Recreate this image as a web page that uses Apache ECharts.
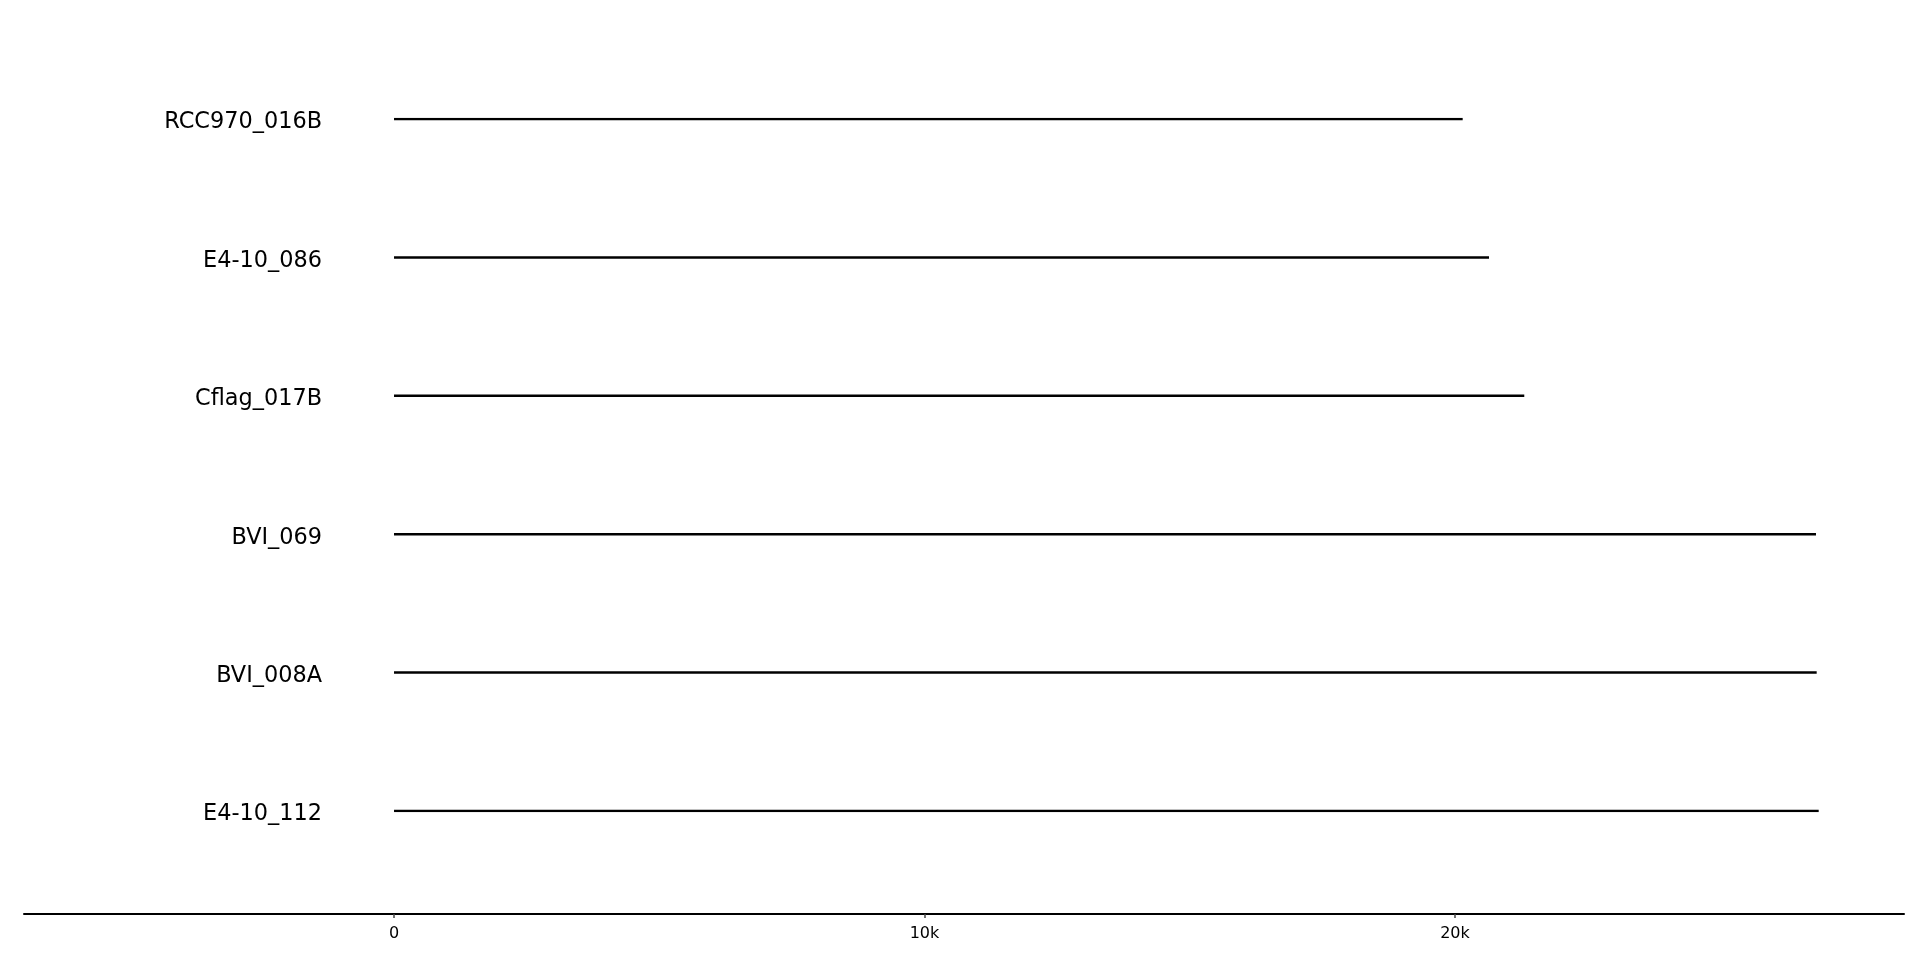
<!DOCTYPE html>
<html>
<head>
<meta charset="utf-8">
<script src="https://cdn.jsdelivr.net/npm/echarts@6/dist/echarts.min.js"></script>
<style>html,body{margin:0;padding:0;background:#fff;}#chart{width:1920px;height:960px;}</style>
</head>
<body>
<div id="chart"></div>
<script>
const genomes = ['RCC970_016B', 'E4-10_086', 'Cflag_017B', 'BVI_069', 'BVI_008A', 'E4-10_112'];
const lengths = [20145, 20641, 21306, 26805, 26818, 26856];
const tickValues = [0, 10000, 20000];
const tickLabels = ['0', '10k', '20k'];

const chart = echarts.init(document.getElementById('chart'));
chart.setOption({
  animation: false,
  backgroundColor: '#ffffff',
  grid: { left: 24, right: 16, top: 119, bottom: 149, containLabel: false },
  xAxis: {
    type: 'value',
    min: -6975,
    max: 28464,
    position: 'bottom',
    offset: 103,
    axisLine: { show: true, onZero: false, lineStyle: { color: '#000', width: 2 } },
    axisTick: { show: true, customValues: tickValues, length: 4, lineStyle: { color: '#444', width: 1.5 } },
    axisLabel: {
      show: true,
      customValues: tickValues,
      margin: 12,
      color: '#000',
      fontFamily: 'DejaVu Sans',
      fontSize: 16,
      formatter: v => tickLabels[tickValues.indexOf(v)]
    },
    splitLine: { show: false }
  },
  yAxis: {
    type: 'category',
    data: genomes,
    inverse: true,
    boundaryGap: false,
    offset: -306,
    axisLine: { show: false },
    axisTick: { show: false },
    splitLine: { show: false },
    axisLabel: {
      margin: 8,
      formatter: v => '{a|' + v + '}',
      rich: {
        a: { color: '#000', fontFamily: 'DejaVu Sans', fontSize: 22.4, padding: [7, 0, 0, 0] }
      }
    }
  },
  series: genomes.map((g, i) => ({
    type: 'line',
    name: g,
    data: [[0, g], [lengths[i], g]],
    symbol: 'none',
    silent: true,
    lineStyle: { color: '#000', width: 2.5, cap: 'butt' }
  }))
});
</script>
</body>
</html>
